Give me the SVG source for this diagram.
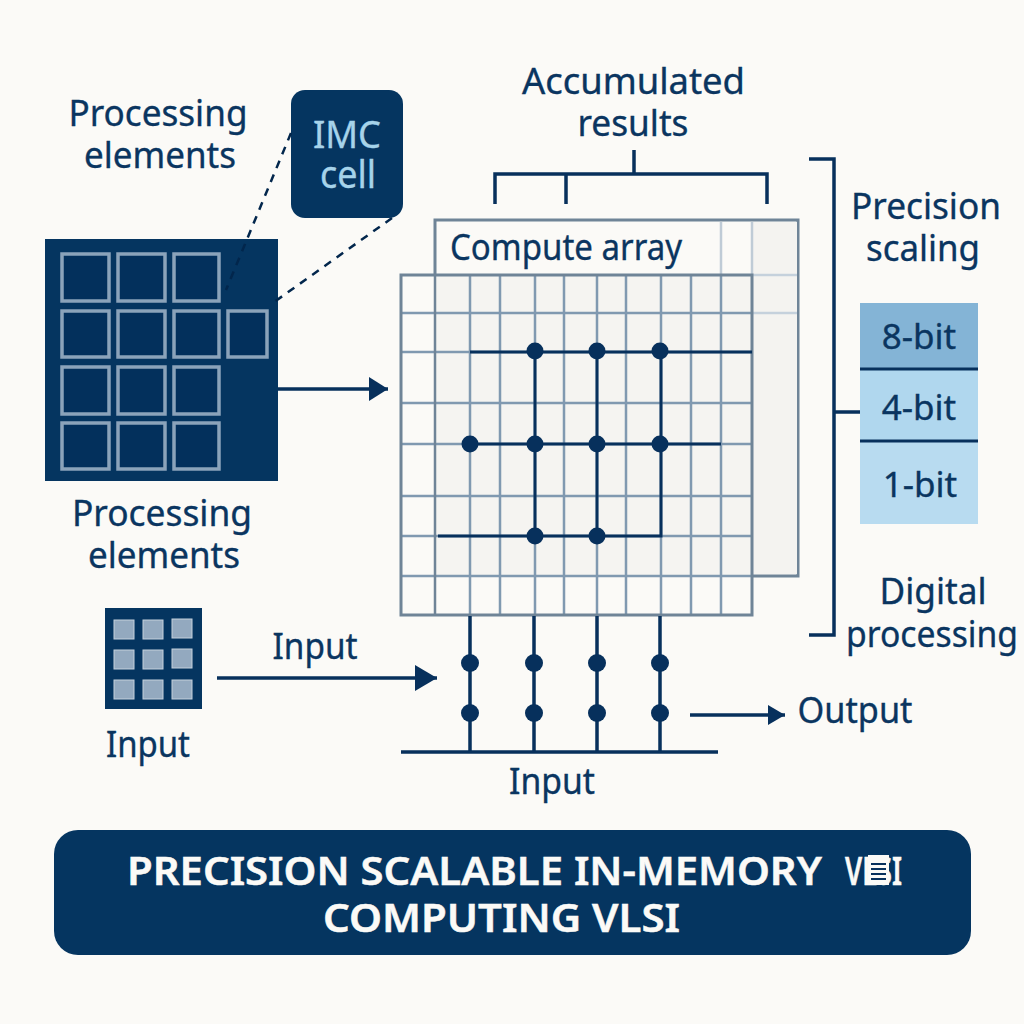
<svg xmlns="http://www.w3.org/2000/svg" width="1024" height="1024" viewBox="0 0 1024 1024">
<style>
text{font-family:"Noto Sans","Open Sans","Liberation Sans",sans-serif;fill:#0a3560;stroke:#0a3560;stroke-width:.35;text-anchor:middle}
.l{font-size:36px}
.b{font-size:35px}
.pe{fill:#03305c;stroke:#8ba3ba;stroke-width:3.5}
.in{fill:#93a9bf;stroke:#c5d1dc;stroke-width:1}
.g{stroke:#8099b0;stroke-width:2.5;fill:none}
.w{stroke:#07305c;stroke-width:3;fill:none}
.c{stroke:#07305c;stroke-width:3.5;fill:none}
.d{fill:#07305c}
.dash{stroke:#02264c;stroke-width:2.5;stroke-dasharray:8 7;fill:none}
.imc{fill:#a6d3ea;stroke:#a6d3ea;font-size:38px}
.t{fill:#fbfaf7;stroke:#fbfaf7;stroke-width:.5;font-size:39px;font-weight:600}
</style>
<defs>
<marker id="a1" markerUnits="userSpaceOnUse" markerWidth="20" markerHeight="26" refX="19" refY="12" orient="auto"><path d="M0 0L19 12L0 24Z" fill="#07305c"/></marker>
<marker id="a2" markerUnits="userSpaceOnUse" markerWidth="23" markerHeight="28" refX="22" refY="13" orient="auto"><path d="M0 0L22 13L0 26Z" fill="#07305c"/></marker>
<marker id="a3" markerUnits="userSpaceOnUse" markerWidth="18" markerHeight="22" refX="17" refY="10" orient="auto"><path d="M0 0L17 10L0 20Z" fill="#07305c"/></marker>
</defs>
<rect width="1024" height="1024" fill="#fbfaf7"/>
<g id="compute-array-back">
<rect x="435" y="220" width="363" height="356" fill="#fbfaf7" stroke="#6f8497" stroke-width="3"/>
<rect x="752" y="222" width="45" height="352" fill="#f4f3f0"/>
<path d="M721 222V275M752 222V275" stroke="#bfcbd6" stroke-width="2.5"/>
<path d="M752 275H797M752 313H797" stroke="#c5d1dc" stroke-width="2.5"/>
<text x="566" y="260" class="l" textLength="232" lengthAdjust="spacingAndGlyphs">Compute array</text>
</g>
<g id="compute-array-front">
<rect x="401" y="275" width="351" height="340" fill="#fbfaf7"/>
<rect x="435" y="275" width="317" height="301" fill="#f5f4f1"/>
<path class="g" d="M470 275V615M500 275V615M535 275V615M564 275V615M597 275V615M626 275V615M661 275V615M691 275V615M721 275V615"/>
<path class="g" d="M401 313H752M401 352H752M401 403H752M401 444H752M401 496H752M401 536H752M401 576H752"/>
<path d="M435 275V615" stroke="#6f8497" stroke-width="2.5"/>
<rect x="401" y="275" width="351" height="340" fill="none" stroke="#6f8497" stroke-width="3"/>
</g>
<g id="array-wires">
<path class="w" d="M470 352H752M470 444H721M438 536H661V444M535 352V536M597 352V536M661 352V444"/>
<g class="d"><circle cx="535" cy="351" r="8.5"/><circle cx="597" cy="351" r="8.5"/><circle cx="660" cy="351" r="8.5"/><circle cx="470" cy="444" r="8.5"/><circle cx="535" cy="444" r="8.5"/><circle cx="597" cy="444" r="8.5"/><circle cx="660" cy="444" r="8.5"/><circle cx="535" cy="536" r="8.5"/><circle cx="597" cy="536" r="8.5"/></g>
</g>
<g id="processing-elements">
<rect x="45" y="239" width="233" height="242" fill="#053560"/>
<rect x="62" y="254" width="47" height="47" class="pe"/><rect x="118" y="254" width="47" height="47" class="pe"/><rect x="174" y="254" width="45" height="47" class="pe"/>
<rect x="62" y="311" width="47" height="46" class="pe"/><rect x="118" y="311" width="47" height="46" class="pe"/><rect x="174" y="311" width="45" height="46" class="pe"/><rect x="228" y="311" width="39" height="46" class="pe"/>
<rect x="62" y="367" width="47" height="47" class="pe"/><rect x="118" y="367" width="47" height="47" class="pe"/><rect x="174" y="367" width="45" height="47" class="pe"/>
<rect x="62" y="423" width="47" height="46" class="pe"/><rect x="118" y="423" width="47" height="46" class="pe"/><rect x="174" y="423" width="45" height="46" class="pe"/>
<text x="158" y="126" class="l" textLength="179" lengthAdjust="spacingAndGlyphs">Processing</text><text x="160" y="168" class="l" textLength="152" lengthAdjust="spacingAndGlyphs">elements</text>
<text x="162" y="526" class="l" textLength="180" lengthAdjust="spacingAndGlyphs">Processing</text><text x="164" y="568" class="l" textLength="152" lengthAdjust="spacingAndGlyphs">elements</text>
</g>
<g id="imc-cell">
<rect x="291" y="90" width="112" height="128" rx="14" fill="#053560"/>
<text x="347" y="148" class="imc" textLength="68" lengthAdjust="spacingAndGlyphs">IMC</text><text x="348" y="188" class="imc" textLength="56" lengthAdjust="spacingAndGlyphs">cell</text>
</g>
<g id="input-block">
<rect x="105" y="608" width="97" height="101" fill="#053560"/>
<g class="in"><rect x="114" y="620" width="20" height="19"/><rect x="143" y="620" width="20" height="19"/><rect x="172" y="619" width="20" height="19"/><rect x="114" y="650" width="20" height="19"/><rect x="143" y="650" width="20" height="19"/><rect x="172" y="649" width="20" height="19"/><rect x="114" y="680" width="20" height="19"/><rect x="143" y="680" width="20" height="19"/><rect x="172" y="680" width="20" height="19"/></g>
<text x="148" y="757" class="l" textLength="84" lengthAdjust="spacingAndGlyphs">Input</text>
</g>
<g id="precision-stack">
<rect x="860" y="303" width="118" height="66" fill="#84b4d6"/>
<rect x="860" y="369" width="118" height="72" fill="#b0d7ee"/>
<rect x="860" y="441" width="118" height="83" fill="#b8dbf0"/>
<path d="M860 369H978M860 441H978" stroke="#07305c" stroke-width="3"/>
<text x="919" y="349" class="b">8-bit</text><text x="919" y="420" class="b">4-bit</text><text x="920" y="497" class="b">1-bit</text>
</g>
<g id="connectors">
<path class="dash" d="M291 133L226 290"/>
<path class="dash" d="M392 218L270 305"/>
<path class="c" d="M278 389H388" marker-end="url(#a1)"/>
<path class="c" d="M495 204V174H767V204M566 174V204M634 150V174"/>
<path class="c" d="M809 159H834V635H809M834 412H860"/>
<path class="c" d="M217 678H437" marker-end="url(#a2)"/>
<path class="c" d="M690 715H785" marker-end="url(#a3)"/>
<path class="c" d="M470 616V752M534 616V752M597 616V752M660 616V752M401 752H718"/>
<g class="d"><circle cx="470" cy="663" r="9"/><circle cx="534" cy="663" r="9"/><circle cx="597" cy="663" r="9"/><circle cx="660" cy="663" r="9"/><circle cx="470" cy="713" r="9"/><circle cx="534" cy="713" r="9"/><circle cx="597" cy="713" r="9"/><circle cx="660" cy="713" r="9"/></g>
</g>
<g id="labels">
<text x="633.5" y="94" class="l" textLength="223" lengthAdjust="spacingAndGlyphs">Accumulated</text><text x="633" y="136" class="l" textLength="111" lengthAdjust="spacingAndGlyphs">results</text>
<text x="926" y="219" class="l" textLength="150" lengthAdjust="spacingAndGlyphs">Precision</text><text x="923" y="261" class="l" textLength="114" lengthAdjust="spacingAndGlyphs">scaling</text>
<text x="933" y="604" class="l" textLength="107" lengthAdjust="spacingAndGlyphs">Digital</text><text x="932" y="647" class="l" textLength="172" lengthAdjust="spacingAndGlyphs">processing</text>
<text x="315" y="659" class="l" textLength="85" lengthAdjust="spacingAndGlyphs">Input</text><text x="552" y="794" class="l" textLength="86" lengthAdjust="spacingAndGlyphs">Input</text><text x="855" y="723" class="l" textLength="115" lengthAdjust="spacingAndGlyphs">Output</text>
</g>
<g id="title">
<rect x="54" y="830" width="917" height="125" rx="24" fill="#053560"/>
<text y="885" class="t" style="text-anchor:start"><tspan x="127" textLength="695" lengthAdjust="spacingAndGlyphs">PRECISION SCALABLE IN-MEMORY</tspan> <tspan x="845" textLength="57" lengthAdjust="spacingAndGlyphs">VLSI</tspan></text>
<text x="501.5" y="932" class="t" textLength="357" lengthAdjust="spacingAndGlyphs">COMPUTING VLSI</text>
<rect x="868" y="855" width="21" height="30" fill="#fbfaf7"/>
<path d="M871 864H886M871 869H886M871 874H886M871 879H886" stroke="#07305c" stroke-width="2"/>
</g>
</svg>
